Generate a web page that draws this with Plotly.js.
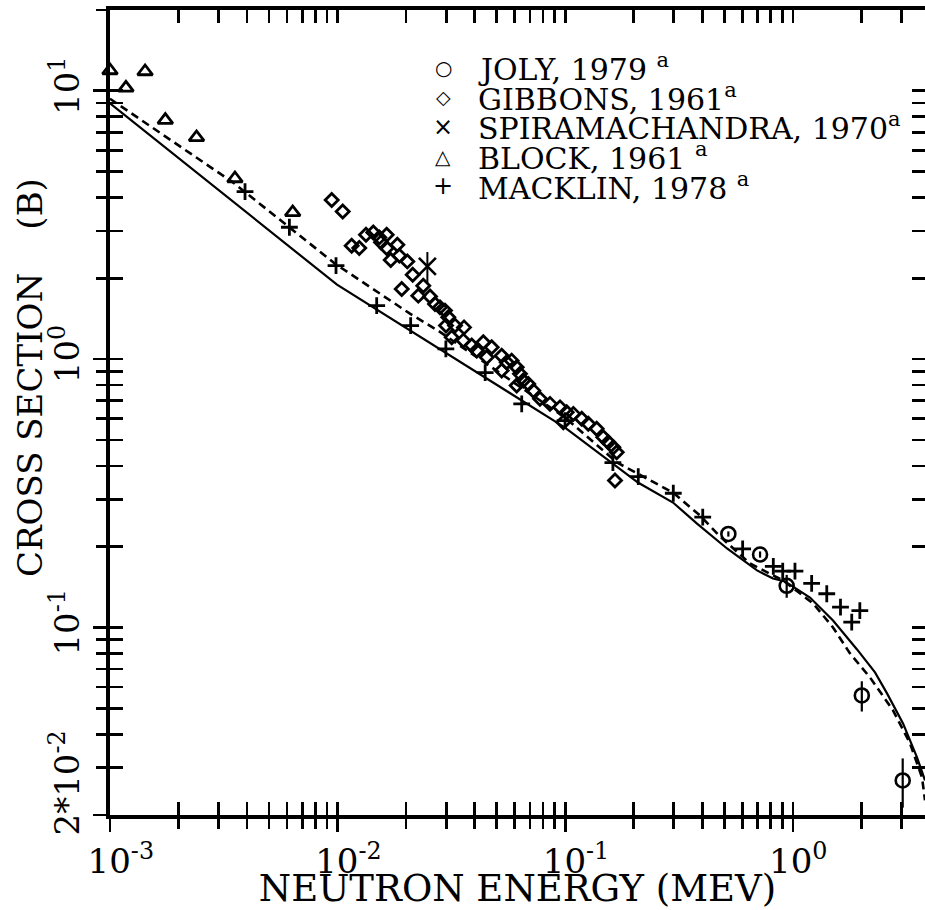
<!DOCTYPE html>
<html><head><meta charset="utf-8">
<script src="https://cdn.plot.ly/plotly-3.0.1.min.js"></script>
<style>html,body{margin:0;padding:0;background:#fff;overflow:hidden}</style>
</head><body><div id="chart" style="width:925px;height:910px"></div>
<script>
// ---- data (energy in MeV, cross section in barns) ----
const jolyE   = [0.521, 0.718, 0.940, 2.01, 3.04];
const jolyXS  = [0.223, 0.187, 0.143, 0.0558, 0.0269];
const jolyErr = [0.005, 0.005, 0.014, 0.0072, 0.0056];

const gibbonsE  = [0.00942,0.01053,0.01153,0.01245,0.01333,0.01435,0.01525,0.01643,0.01551,0.01643,
                   0.0183,0.01712,0.01867,0.02024,0.02138,0.01913,0.02379,0.02262,0.02547,0.02679,
                   0.02818,0.02963,0.03064,0.02994,0.0328,0.03593,0.03172,0.03568,0.03884,0.04085,
                   0.04367,0.04753,0.04519,0.0526,0.05534,0.05818,0.0612,0.0526,0.06328,0.06543,
                   0.06882,0.0612,0.07244,0.07749,0.08574,0.09489,0.1086,0.1182,0.1263,0.1375,
                   0.147,0.1547,0.1627,0.1684,0.1655,0.1015,0.0981];
const gibbonsXS = [3.92,3.55,2.647,2.596,2.909,2.966,2.842,2.909,2.723,2.596,
                   2.669,2.342,2.43,2.313,2.064,1.825,1.878,1.724,1.71,1.605,
                   1.559,1.516,1.431,1.333,1.333,1.313,1.206,1.172,1.123,1.076,
                   1.155,1.107,1.016,1.03,0.973,0.987,0.932,0.906,0.881,0.832,
                   0.808,0.797,0.763,0.711,0.681,0.661,0.625,0.599,0.574,0.55,
                   0.511,0.49,0.469,0.45,0.353,0.634,0.582];

const spiraE   = [0.0248];
const spiraXS  = [2.216];
const spiraErr = [0.29];

const blockE  = [0.001, 0.001175, 0.001426, 0.00175, 0.0024, 0.00354, 0.00635];
const blockXS = [11.9, 10.26, 11.8, 7.78, 6.70, 4.71, 3.52];

const macklinE  = [0.00392,0.00614,0.00984,0.01485,0.02094,0.0299,0.0445,0.0644,0.0998,0.162,
                   0.2094,0.2985,0.402,0.602,0.821,0.903,1.022,1.21,1.41,1.62,1.815,1.97];
const macklinXS = [4.21,3.10,2.23,1.582,1.333,1.092,0.891,0.681,0.590,0.4115,
                   0.365,0.3163,0.2576,0.1964,0.169,0.1621,0.1621,0.146,0.1335,0.119,0.1047,0.1156];

const solidE  = [0.001,0.00994,0.0998,0.1622,0.2088,0.2976,0.3795,0.514,0.6962,0.8184,0.9242,
                 1.19,1.502,1.915,2.297,2.594,3.05,3.513,3.809];
const solidXS = [8.985,1.894,0.5556,0.4081,0.3467,0.2921,0.2439,0.1969,0.1631,0.1522,0.1484,
                 0.1293,0.1062,0.0828,0.068,0.0568,0.0439,0.0328,0.0269];

const dashE  = [0.001,0.00347,0.009741,0.0208,0.02762,0.0998,0.1689,0.2359,0.2976,0.3912,0.4788,
                0.6485,0.9057,1.227,1.502,1.784,2.184,2.756,3.273,3.696,3.809];
const dashXS = [9.337,4.555,2.268,1.477,1.277,0.6056,0.4117,0.3528,0.3182,0.2613,0.2183,
                0.1731,0.1497,0.1229,0.1,0.08,0.0651,0.0491,0.037,0.0276,0.0227];

// ---- ticks ----
const xMajor = [0.001, 0.01, 0.1, 1];
const xMajorText = ['10<sup>-3</sup>', '10<sup>-2</sup>', '10<sup>-1</sup>', '10<sup>0</sup>'];
const xMinor = [0.002,0.003,0.004,0.005,0.006,0.007,0.008,0.009,
                0.02,0.03,0.04,0.05,0.06,0.07,0.08,0.09,
                0.2,0.3,0.4,0.5,0.6,0.7,0.8,0.9,2,3];
const yMajor = [0.02, 0.1, 1, 10];
const yMajorText = ['2*10<sup>-2</sup>', '10<sup>-1</sup>', '10<sup>0</sup>', '10<sup>1</sup>'];
const yMinor = [0.03,0.04,0.05,0.06,0.07,0.08,0.09,
                0.2,0.3,0.4,0.5,0.6,0.7,0.8,0.9,
                2,3,4,5,6,7,8,9,20];

const xTitle = 'NEUTRON ENERGY (MEV)';
const yTitle = 'CROSS SECTION\u00a0\u00a0\u00a0\u00a0(B)';
const legendNames = ['JOLY, 1979 <sup>a</sup>', 'GIBBONS, 1961<sup>a</sup>',
                     'SPIRAMACHANDRA, 1970<sup>a</sup>', 'BLOCK, 1961 <sup>a</sup>', 'MACKLIN, 1978 <sup>a</sup>'];
const legendGlyphs = ['\u25CB', '\u25C7', '\u00D7', '\u25B3', '+'];

// ---- build ----
const NB = '\u00a0';
const FONT = 'DejaVu Serif';
const xPad = [NB+NB, NB+NB, NB+NB, NB];
const xTickText = xMajorText.map((t,i)=>xPad[i]+t);
const yPad = [NB.repeat(5), '', '', ''];
const yTickText = yMajorText.map((t,i)=>yPad[i]+t);
const xAll = xMajor.concat(xMinor);
const yAll = yMajor.concat(yMinor);

const blk = '#000';
const traces = [
  {x: solidE, y: solidXS, mode:'lines', line:{color:blk, width:2.2}, showlegend:false},
  {x: dashE, y: dashXS, mode:'lines', line:{color:blk, width:2.6, dash:'8px,5px'}, showlegend:false},
  {x: gibbonsE, y: gibbonsXS, mode:'markers', name:'GIBBONS, 1961',
   marker:{symbol:'diamond-open', size:10, color:blk, line:{width:2.8, color:blk}}},
  {x: blockE, y: blockXS, mode:'markers', name:'BLOCK, 1961', cliponaxis:false,
   marker:{symbol:'triangle-up-open', size:13, color:blk, line:{width:2.8, color:blk}}},
  {x: macklinE, y: macklinXS, mode:'markers', name:'MACKLIN, 1978',
   marker:{symbol:'cross-thin', size:12, color:blk, line:{width:2.8, color:blk}}},
  {x: spiraE, y: spiraXS, mode:'markers', name:'SPIRAMACHANDRA, 1970',
   error_y:{type:'data', array:spiraErr, visible:true, width:0, thickness:2, color:blk},
   marker:{symbol:'x-thin', size:17, color:blk, line:{width:2.6, color:blk}}},
  {x: jolyE, y: jolyXS, mode:'markers', name:'JOLY, 1979', cliponaxis:false,
   error_y:{type:'data', array:jolyErr, visible:true, width:0, thickness:2.2, color:blk},
   marker:{symbol:'circle-open', size:14, color:blk, line:{width:2.6, color:blk}}},
  {x: [], y: [], xaxis:'x2', yaxis:'y2', mode:'markers', showlegend:false, hoverinfo:'skip'},
  {x: [], y: [], xaxis:'x3', yaxis:'y3', mode:'markers', showlegend:false, hoverinfo:'skip'}
];

// legend and y title drawn as text
const L = 110, R = 925, T = 10, B = 815;
const px = v => (v - L) / (R - L);
const py = v => (B - v) / (B - T);
const rowY = [68, 97, 127, 157, 186];
const glyphSize = [20, 19, 24, 20, 24];
const annotations = [];
legendNames.forEach((n,i)=>{
  annotations.push({xref:'paper', yref:'paper', x:px(443), y:py(rowY[i]), text:legendGlyphs[i],
    showarrow:false, xanchor:'center', yanchor:'middle',
    font:{family:'DejaVu Sans', size:glyphSize[i], color:blk}});
  annotations.push({xref:'paper', yref:'paper', x:px(476), y:py(rowY[i]), text:n,
    showarrow:false, xanchor:'left', yanchor:'middle',
    font:{family:FONT, size:30, color:blk}});
});
annotations.push({xref:'paper', yref:'paper', x:px(30), y:py(378), text:yTitle, textangle:-90,
  showarrow:false, xanchor:'center', yanchor:'middle', font:{family:FONT, size:34, color:blk}});

const tickStyle = {tickcolor:blk, tickwidth:2.6, ticklen:13};
const axBase = Object.assign({type:'log', tickmode:'array', showgrid:false, zeroline:false}, tickStyle);
const xRange = [-3, Math.log10(3.809)];
const yRange = [Math.log10(0.02), Math.log10(20)];
const layout = {
  width: 925, height: 910,
  margin: {l: L, r: 925 - R, t: T, b: 910 - B},
  paper_bgcolor:'#fff', plot_bgcolor:'#fff',
  showlegend:false, hovermode:false,
  font:{family:FONT, color:blk},
  xaxis: Object.assign({}, axBase, {
    range:xRange, tickvals:xMajor, ticktext:xTickText, ticks:'outside',
    showline:true, linewidth:4, linecolor:blk, mirror:true,
    tickfont:{family:FONT, size:34, color:blk},
    title:{text:xTitle, font:{family:FONT, size:37, color:blk}, standoff:0}
  }),
  xaxis2: Object.assign({}, axBase, {
    range:xRange, tickvals:xAll, ticks:'inside', overlaying:'x', anchor:'y2',
    showticklabels:false, showline:false, mirror:'ticks'
  }),
  xaxis3: Object.assign({}, axBase, {
    range:xRange, tickvals:xMinor, ticks:'outside', overlaying:'x', anchor:'y3',
    showticklabels:false, showline:false
  }),
  yaxis: Object.assign({}, axBase, {
    range:yRange, tickvals:yMajor, ticktext:yTickText, ticks:'outside',
    tickangle:-90, showline:true, linewidth:4, linecolor:blk, mirror:false,
    tickfont:{family:FONT, size:34, color:blk}
  }),
  yaxis2: Object.assign({}, axBase, {
    range:yRange, tickvals:yAll, ticks:'inside', overlaying:'y', anchor:'x2',
    showticklabels:false, showline:false, mirror:'ticks'
  }),
  yaxis3: Object.assign({}, axBase, {
    range:yRange, tickvals:yMinor, ticks:'outside', overlaying:'y', anchor:'x3',
    showticklabels:false, showline:false
  }),
  annotations: annotations
};
Plotly.newPlot('chart', traces, layout, {displayModeBar:false, staticPlot:true});
</script></body></html>
